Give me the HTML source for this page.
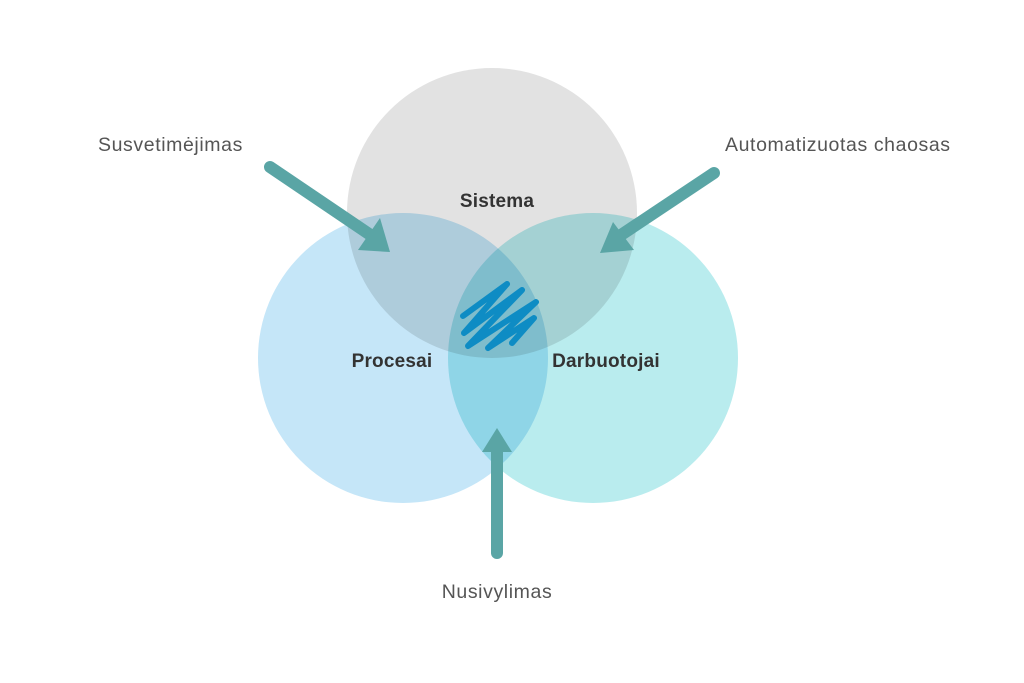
<!DOCTYPE html>
<html><head><meta charset="utf-8"><style>
html,body{margin:0;padding:0;background:#fff}
svg{display:block}
text{font-family:"Liberation Sans",sans-serif}
</style></head><body>
<svg width="1024" height="683" viewBox="0 0 1024 683" xmlns="http://www.w3.org/2000/svg">
<rect width="1024" height="683" fill="#fff"/>
<g style="isolation:isolate">
<circle cx="403" cy="358" r="145" fill="#c5e6f8"/>
<circle cx="593" cy="358" r="145" fill="#b9ecee" style="mix-blend-mode:multiply"/>
<circle cx="492" cy="213" r="145" fill="#e2e2e2" style="mix-blend-mode:multiply"/>
</g>
<g fill="none" stroke="#0e8cc4" stroke-width="6" stroke-linecap="round" stroke-linejoin="round">
<path d="M463 316 L507 284 L464 333 L522 290 L468 346 L536 302 L488 348 L534 318 L512 343"/>
</g>
<g stroke="#5aa5a5" stroke-width="12" stroke-linecap="round" fill="#5aa5a5">
<line x1="270" y1="167" x2="372" y2="236"/>
<line x1="714" y1="173" x2="618" y2="237"/>
<line x1="497" y1="553" x2="497" y2="446"/>
</g>
<g fill="#5aa5a5">
<polygon points="390,252 358,250 380,218"/>
<polygon points="600,253 613,222 634,250"/>
<polygon points="497,428 482,452 512,452"/>
</g>
<g font-size="19.5" fill="#555" letter-spacing="0.6">
<text x="98" y="151">Susvetimėjimas</text>
<text x="725" y="151">Automatizuotas chaosas</text>
<text x="497" y="598" text-anchor="middle">Nusivylimas</text>
</g>
<g font-size="19" font-weight="bold" fill="#333" letter-spacing="0.2">
<text x="497" y="207" text-anchor="middle">Sistema</text>
<text x="392" y="367" text-anchor="middle">Procesai</text>
<text x="606" y="367" text-anchor="middle">Darbuotojai</text>
</g>
</svg>
</body></html>
